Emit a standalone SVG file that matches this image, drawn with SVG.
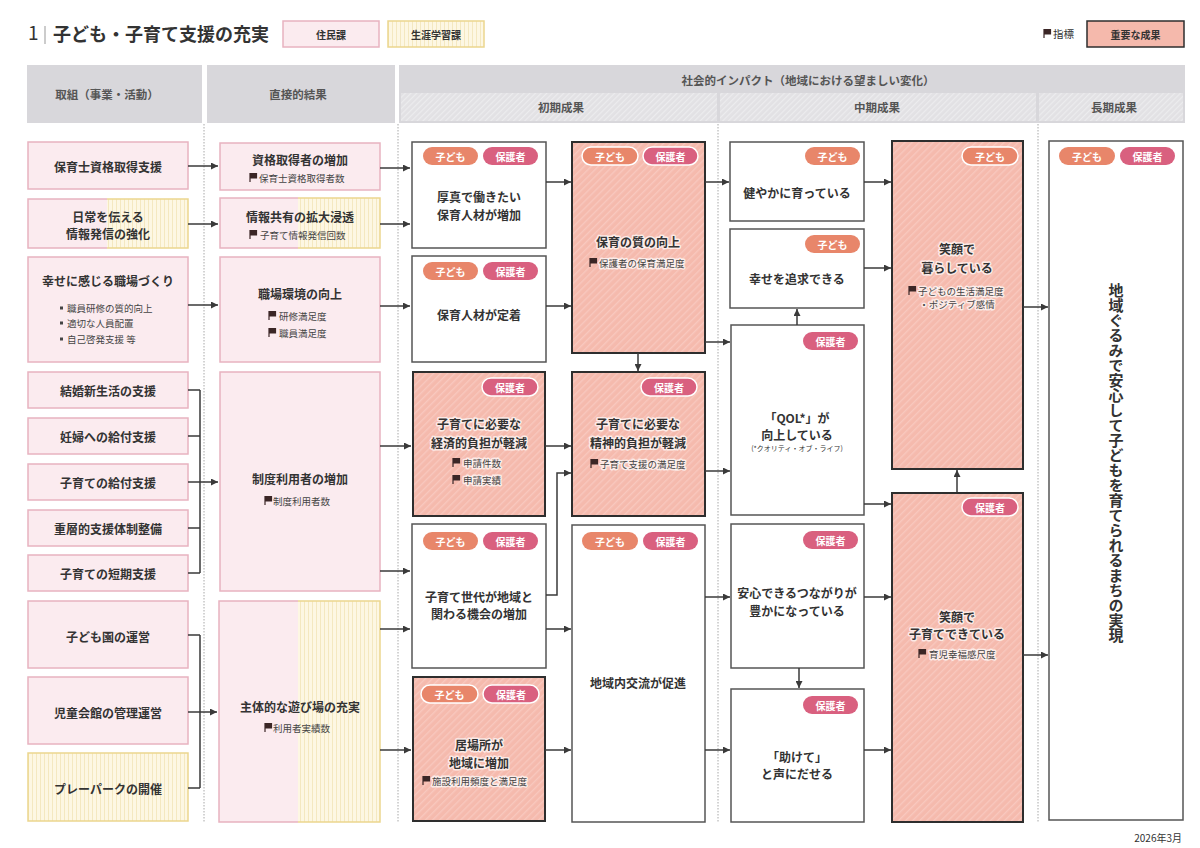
<svg xmlns="http://www.w3.org/2000/svg" width="1200" height="848" viewBox="0 0 1200 848">
<defs>
<style>
text{font-family:"Noto Sans CJK JP","Noto Sans",sans-serif;fill:#333;}
.hd{fill:#D8D7DB;}
.hdt{font-size:11.5px;font-weight:700;fill:#555;text-anchor:middle;dominant-baseline:central;}
.pk{fill:#FBEBEF;stroke:#E8B3C0;stroke-width:1.5;}
.pkf{fill:#FBEBEF;}
.ylf{fill:url(#vst);}
.pks{fill:none;stroke:#E8B3C0;stroke-width:1.5;}
.yls{fill:none;stroke:#EBD68E;stroke-width:1.5;}
.yl{fill:url(#vst);stroke:#EBD68E;stroke-width:1.5;}
.wb{fill:#fff;stroke:#555;stroke-width:1.5;}
.ib{fill:url(#dst);stroke:#2e2e2e;stroke-width:2;}
.t{font-size:12px;font-weight:700;text-anchor:middle;dominant-baseline:central;}
.ind{font-size:9.5px;font-weight:400;fill:#444;dominant-baseline:central;}
.indc{font-size:9.5px;font-weight:400;fill:#444;dominant-baseline:central;text-anchor:middle;}
.bl{font-size:9.5px;font-weight:400;fill:#444;dominant-baseline:central;}
.halo{stroke:#fff;stroke-opacity:0.7;stroke-width:3;paint-order:stroke;stroke-linejoin:round;}
.tk{fill:#E8866A;}
.th{fill:#D9607F;}
.tw{stroke:#fff;stroke-width:1.5;}
.tg{font-size:10px;font-weight:700;fill:#fff;text-anchor:middle;dominant-baseline:central;}
.cn{fill:none;stroke:#3a3a3a;stroke-width:1.5;}
.ca{fill:none;stroke:#3a3a3a;stroke-width:1.5;marker-end:url(#ar);}
.sep{stroke:#A8A8A8;stroke-width:1;stroke-dasharray:1.5 1.5;}
</style>
<marker id="ar" viewBox="0 0 8 8" refX="8" refY="4" markerWidth="7" markerHeight="7" markerUnits="userSpaceOnUse" orient="auto">
<path d="M0,0 L8,4 L0,8 z" fill="#3a3a3a"/>
</marker>
<pattern id="dst" patternUnits="userSpaceOnUse" width="5" height="5" patternTransform="rotate(45)">
<rect width="5" height="5" fill="#F5BAAD"/>
<rect width="1.4" height="5" fill="#F8C8BE"/>
</pattern>
<pattern id="hst" patternUnits="userSpaceOnUse" width="4" height="4" patternTransform="rotate(45)">
<rect width="4" height="4" fill="#E2E1E4"/>
<rect width="1.2" height="4" fill="#ECECEE"/>
</pattern>
<pattern id="vst" patternUnits="userSpaceOnUse" width="4" height="4">
<rect width="4" height="4" fill="#FDF7E3"/>
<rect width="1" height="4" fill="#F4E8C0"/>
</pattern>
<path id="flag" d="M0,0 V9 M0.6,0.5 H6.5 V5 H0.6 z" fill="#3b2626" stroke="#3b2626" stroke-width="1.2"/>
</defs>

<rect width="1200" height="848" fill="#fff"/>

<g id="title">
<text x="28" y="40" font-size="19" font-weight="400" fill="#333">1</text>
<line x1="45" y1="26" x2="45" y2="44" stroke="#999" stroke-width="1"/>
<text x="53" y="41" font-size="18" font-weight="700" fill="#333">子ども・子育て支援の充実</text>
</g>

<g id="legend">
<rect x="283" y="21" width="96" height="26" class="pk"/>
<text x="331" y="34" font-size="10" font-weight="700" text-anchor="middle" dominant-baseline="central">住民課</text>
<rect x="388" y="21" width="96" height="26" class="yl"/>
<text x="436" y="34" font-size="10" font-weight="700" text-anchor="middle" dominant-baseline="central">生涯学習課</text>
<use href="#flag" x="1044" y="29"/>
<text x="1053" y="33" font-size="10.5" fill="#444" dominant-baseline="central">指標</text>
<rect x="1087" y="21" width="97" height="26" fill="#F5B9AC" stroke="#2e2e2e" stroke-width="1.5"/>
<text x="1135.5" y="34" font-size="10" font-weight="700" text-anchor="middle" dominant-baseline="central">重要な成果</text>
</g>

<g id="header">
<rect x="27" y="65" width="175" height="58" class="hd"/>
<text x="107" y="94" class="hdt">取組（事業・活動）</text>
<rect x="207" y="65" width="188" height="58" class="hd"/>
<text x="298" y="94" class="hdt">直接的結果</text>
<rect x="399" y="65" width="786" height="58" class="hd"/>
<text x="808" y="80" class="hdt">社会的インパクト（地域における望ましい変化）</text>
<rect x="401" y="93" width="316" height="28" fill="url(#hst)"/>
<rect x="720" y="93" width="316" height="28" fill="url(#hst)"/>
<rect x="1039" y="93" width="144" height="28" fill="url(#hst)"/>
<text x="561" y="107" class="hdt">初期成果</text>
<text x="877" y="107" class="hdt">中期成果</text>
<text x="1114" y="107" class="hdt">長期成果</text>
</g>

<g id="separators">
<line x1="204" y1="124" x2="204" y2="822" class="sep"/>
<line x1="398" y1="124" x2="398" y2="822" class="sep"/>
<line x1="718" y1="124" x2="718" y2="822" class="sep"/>
<line x1="1038" y1="124" x2="1038" y2="822" class="sep"/>
</g>

<!-- Column 1: activities -->
<g id="a1"><rect x="28" y="142" width="160" height="47" class="pk"/><text x="108" y="166" class="t">保育士資格取得支援</text></g>
<g id="a2">
<rect x="28" y="199" width="79" height="49" class="pkf"/>
<rect x="107" y="199" width="81" height="49" class="ylf"/>
<path d="M107,199 H28 V248 H107" class="pks"/>
<path d="M107,199 H188 V248 H107" class="yls"/>
<text x="108" y="216" class="t">日常を伝える</text><text x="108" y="233" class="t">情報発信の強化</text>
</g>
<g id="a3">
<rect x="28" y="257" width="160" height="105" class="pk"/>
<text x="108" y="280" class="t">幸せに感じる職場づくり</text>
<rect x="60" y="306.5" width="3" height="3" fill="#444"/><text x="67" y="308" class="bl">職員研修の質的向上</text>
<rect x="60" y="321.5" width="3" height="3" fill="#444"/><text x="67" y="323" class="bl">適切な人員配置</text>
<rect x="60" y="337.5" width="3" height="3" fill="#444"/><text x="67" y="339" class="bl">自己啓発支援 等</text>
</g>
<g id="a4"><rect x="28" y="372" width="160" height="36" class="pk"/><text x="108" y="390" class="t">結婚新生活の支援</text></g>
<g id="a5"><rect x="28" y="418" width="160" height="36" class="pk"/><text x="108" y="436" class="t">妊婦への給付支援</text></g>
<g id="a6"><rect x="28" y="464" width="160" height="36" class="pk"/><text x="108" y="482" class="t">子育ての給付支援</text></g>
<g id="a7"><rect x="28" y="510" width="160" height="36" class="pk"/><text x="108" y="528" class="t">重層的支援体制整備</text></g>
<g id="a8"><rect x="28" y="555" width="160" height="36" class="pk"/><text x="108" y="573" class="t">子育ての短期支援</text></g>
<g id="a9"><rect x="28" y="601" width="160" height="67" class="pk"/><text x="108" y="636" class="t">子ども園の運営</text></g>
<g id="a10"><rect x="28" y="677" width="160" height="67" class="pk"/><text x="108" y="712" class="t">児童会館の管理運営</text></g>
<g id="a11"><rect x="28" y="753" width="160" height="68" class="yl"/><text x="108" y="788" class="t">プレーパークの開催</text></g>

<!-- Column 2: direct results -->
<g id="r1">
<rect x="220" y="143" width="160" height="47" class="pk"/>
<text x="300" y="159" class="t">資格取得者の増加</text>
<use href="#flag" x="250" y="173"/><text x="259" y="178" class="ind">保育士資格取得者数</text>
</g>
<g id="r2">
<rect x="220" y="198" width="78" height="50" class="pkf"/>
<rect x="298" y="198" width="82" height="50" class="ylf"/>
<path d="M298,198 H220 V248 H298" class="pks"/>
<path d="M298,198 H380 V248 H298" class="yls"/>
<text x="300" y="216" class="t">情報共有の拡大浸透</text>
<use href="#flag" x="250" y="230"/><text x="260" y="235" class="ind">子育て情報発信回数</text>
</g>
<g id="r3">
<rect x="220" y="257" width="160" height="105" class="pk"/>
<text x="300" y="293" class="t">職場環境の向上</text>
<use href="#flag" x="269" y="311"/><text x="279" y="316" class="ind">研修満足度</text>
<use href="#flag" x="269" y="328"/><text x="279" y="333" class="ind">職員満足度</text>
</g>
<g id="r4">
<rect x="220" y="372" width="160" height="219" class="pk"/>
<text x="300" y="478" class="t">制度利用者の増加</text>
<use href="#flag" x="265" y="496"/><text x="273" y="501" class="ind">制度利用者数</text>
</g>
<g id="r5">
<rect x="219" y="601" width="79" height="221" class="pkf"/>
<rect x="298" y="601" width="82" height="221" class="ylf"/>
<path d="M298,601 H219 V822 H298" class="pks"/>
<path d="M298,601 H380 V822 H298" class="yls"/>
<text x="300" y="706" class="t">主体的な遊び場の充実</text>
<use href="#flag" x="265" y="723"/><text x="273" y="728" class="ind">利用者実績数</text>
</g>

<!-- Initial outcomes -->
<g id="o1">
<rect x="412" y="142" width="134" height="106" class="wb"/>
<rect x="423" y="147" width="55" height="18" rx="9" class="tk"/><text x="450.5" y="156" class="tg">子ども</text>
<rect x="483" y="147" width="55" height="18" rx="9" class="th"/><text x="510.5" y="156" class="tg">保護者</text>
<text x="479" y="196" class="t">厚真で働きたい</text><text x="479" y="214" class="t">保育人材が増加</text>
</g>
<g id="o2">
<rect x="412" y="256" width="134" height="106" class="wb"/>
<rect x="423" y="262" width="55" height="18" rx="9" class="tk"/><text x="450.5" y="271" class="tg">子ども</text>
<rect x="483" y="262" width="55" height="18" rx="9" class="th"/><text x="510.5" y="271" class="tg">保護者</text>
<text x="479" y="314" class="t">保育人材が定着</text>
</g>
<g id="o3">
<rect x="413" y="372" width="132" height="144" class="ib"/>
<rect x="482" y="378" width="56" height="18" rx="9" class="th tw"/><text x="510" y="387" class="tg">保護者</text>
<text x="479" y="423" class="t halo">子育てに必要な</text><text x="479" y="442" class="t halo">経済的負担が軽減</text>
<use href="#flag" x="453" y="458"/><text x="463" y="463" class="ind halo">申請件数</text>
<use href="#flag" x="453" y="475"/><text x="463" y="480" class="ind halo">申請実績</text>
</g>
<g id="o4">
<rect x="412" y="524" width="134" height="144" class="wb"/>
<rect x="423" y="532" width="55" height="18" rx="9" class="tk"/><text x="450.5" y="541" class="tg">子ども</text>
<rect x="483" y="532" width="55" height="18" rx="9" class="th"/><text x="510.5" y="541" class="tg">保護者</text>
<text x="479" y="596" class="t">子育て世代が地域と</text><text x="479" y="613" class="t">関わる機会の増加</text>
</g>
<g id="o5">
<rect x="413" y="677" width="132" height="144" class="ib"/>
<rect x="421" y="685" width="57" height="18" rx="9" class="tk tw"/><text x="449.5" y="694" class="tg">子ども</text>
<rect x="483" y="685" width="56" height="18" rx="9" class="th tw"/><text x="511" y="694" class="tg">保護者</text>
<text x="479" y="744" class="t halo">居場所が</text><text x="479" y="762" class="t halo">地域に増加</text>
<use href="#flag" x="423" y="776"/><text x="432" y="781" class="ind halo">施設利用頻度と満足度</text>
</g>
<g id="o6">
<rect x="572" y="142" width="133" height="211" class="ib"/>
<rect x="582" y="147" width="56" height="18" rx="9" class="tk tw"/><text x="610" y="156" class="tg">子ども</text>
<rect x="643" y="147" width="55" height="18" rx="9" class="th tw"/><text x="670.5" y="156" class="tg">保護者</text>
<text x="638" y="241" class="t halo">保育の質の向上</text>
<use href="#flag" x="590" y="258"/><text x="599" y="263" class="ind halo">保護者の保育満足度</text>
</g>
<g id="o7">
<rect x="572" y="372" width="133" height="144" class="ib"/>
<rect x="641" y="378" width="56" height="18" rx="9" class="th tw"/><text x="669" y="387" class="tg">保護者</text>
<text x="638" y="423" class="t halo">子育てに必要な</text><text x="638" y="442" class="t halo">精神的負担が軽減</text>
<use href="#flag" x="591" y="459"/><text x="600" y="464" class="ind halo">子育て支援の満足度</text>
</g>
<g id="o8">
<rect x="572" y="525" width="133" height="297" class="wb"/>
<rect x="582" y="532" width="56" height="18" rx="9" class="tk"/><text x="610" y="541" class="tg">子ども</text>
<rect x="643" y="532" width="55" height="18" rx="9" class="th"/><text x="670.5" y="541" class="tg">保護者</text>
<text x="638" y="682" class="t">地域内交流が促進</text>
</g>

<!-- Mid-term outcomes -->
<g id="m1">
<rect x="730" y="142" width="134" height="79" class="wb"/>
<rect x="805" y="147" width="55" height="18" rx="9" class="tk"/><text x="832.5" y="156" class="tg">子ども</text>
<text x="797" y="192" class="t">健やかに育っている</text>
</g>
<g id="m2">
<rect x="730" y="229" width="134" height="79" class="wb"/>
<rect x="805" y="235" width="55" height="18" rx="9" class="tk"/><text x="832.5" y="244" class="tg">子ども</text>
<text x="797" y="278" class="t">幸せを追求できる</text>
</g>
<g id="m3">
<rect x="731" y="325" width="133" height="190" class="wb"/>
<rect x="803" y="332" width="55" height="18" rx="9" class="th"/><text x="830.5" y="341" class="tg">保護者</text>
<text x="797" y="417" class="t">「QOL*」が</text><text x="797" y="434" class="t">向上している</text>
<text x="797" y="448" font-size="7" text-anchor="middle" dominant-baseline="central">(*クオリティ・オブ・ライフ)</text>
</g>
<g id="m4">
<rect x="731" y="524" width="133" height="144" class="wb"/>
<rect x="803" y="531" width="55" height="18" rx="9" class="th"/><text x="830.5" y="540" class="tg">保護者</text>
<text x="797" y="592" class="t">安心できるつながりが</text><text x="797" y="610" class="t">豊かになっている</text>
</g>
<g id="m5">
<rect x="731" y="689" width="133" height="133" class="wb"/>
<rect x="803" y="696" width="55" height="18" rx="9" class="th"/><text x="830.5" y="705" class="tg">保護者</text>
<text x="797" y="756" class="t">「助けて」</text><text x="797" y="773" class="t">と声にだせる</text>
</g>
<g id="m6">
<rect x="892" y="141" width="131" height="328" class="ib"/>
<rect x="962" y="147" width="56" height="18" rx="9" class="tk tw"/><text x="990" y="156" class="tg">子ども</text>
<text x="957" y="248" class="t halo">笑顔で</text><text x="957" y="267" class="t halo">暮らしている</text>
<use href="#flag" x="909" y="286"/><text x="918" y="291" class="ind halo">子どもの生活満足度</text>
<text x="957" y="304" class="indc halo">・ポジティブ感情</text>
</g>
<g id="m7">
<rect x="892" y="493" width="131" height="329" class="ib"/>
<rect x="962" y="498" width="56" height="18" rx="9" class="th tw"/><text x="990" y="507" class="tg">保護者</text>
<text x="957" y="616" class="t halo">笑顔で</text><text x="957" y="633" class="t halo">子育てできている</text>
<use href="#flag" x="919" y="649"/><text x="929" y="654" class="ind halo">育児幸福感尺度</text>
</g>

<!-- Long-term outcome -->
<g id="l1">
<rect x="1049" y="141" width="134" height="679" class="wb"/>
<rect x="1059" y="147" width="56" height="18" rx="9" class="tk"/><text x="1087" y="156" class="tg">子ども</text>
<rect x="1120" y="147" width="55" height="18" rx="9" class="th"/><text x="1147.5" y="156" class="tg">保護者</text>
<text x="1116" y="463" font-size="15" font-weight="700" text-anchor="middle" style="writing-mode:vertical-rl">地域ぐるみで安心して子どもを育てられるまちの実現</text>
</g>

<g id="footer">
<text x="1182" y="837" font-size="10" fill="#666" text-anchor="end" dominant-baseline="central">2026年3月</text>
</g>

<g id="connectors">
<path d="M188,166 H218" class="ca"/>
<path d="M188,224 H218" class="ca"/>
<path d="M188,305 H218" class="ca"/>
<path d="M188,390 H200 M188,436 H200 M188,528 H200 M188,573 H200 M200,390 V573" class="cn"/>
<path d="M188,482 H218" class="ca"/>
<path d="M188,635 H200 M188,788 H200 M200,635 V788" class="cn"/>
<path d="M188,712 H217" class="ca"/>
<path d="M380,168 H410" class="ca"/>
<path d="M380,224 H410" class="ca"/>
<path d="M380,306 H410" class="ca"/>
<path d="M380,446 H411" class="ca"/>
<path d="M380,571 H410" class="ca"/>
<path d="M380,629 H410" class="ca"/>
<path d="M380,750 H411" class="ca"/>
<path d="M546,182 H571" class="ca"/>
<path d="M546,306 H571" class="ca"/>
<path d="M638,353 V371" class="ca"/>
<path d="M545,446 H571" class="ca"/>
<path d="M546,595 H557 V473 H571" class="ca"/>
<path d="M546,629 H571" class="ca"/>
<path d="M545,750 H571" class="ca"/>
<path d="M705,182 H729" class="ca"/>
<path d="M705,342 H730" class="ca"/>
<path d="M705,471 H730" class="ca"/>
<path d="M705,597 H730" class="ca"/>
<path d="M705,750 H730" class="ca"/>
<path d="M797,325 V309" class="ca"/>
<path d="M864,182 H891" class="ca"/>
<path d="M864,268 H891" class="ca"/>
<path d="M864,504 H891" class="ca"/>
<path d="M957,492 V470" class="ca"/>
<path d="M799,668 V688" class="ca"/>
<path d="M864,597 H891" class="ca"/>
<path d="M864,750 H891" class="ca"/>
<path d="M1023,307 H1048" class="ca"/>
<path d="M1023,655 H1048" class="ca"/>
</g>
</svg>
